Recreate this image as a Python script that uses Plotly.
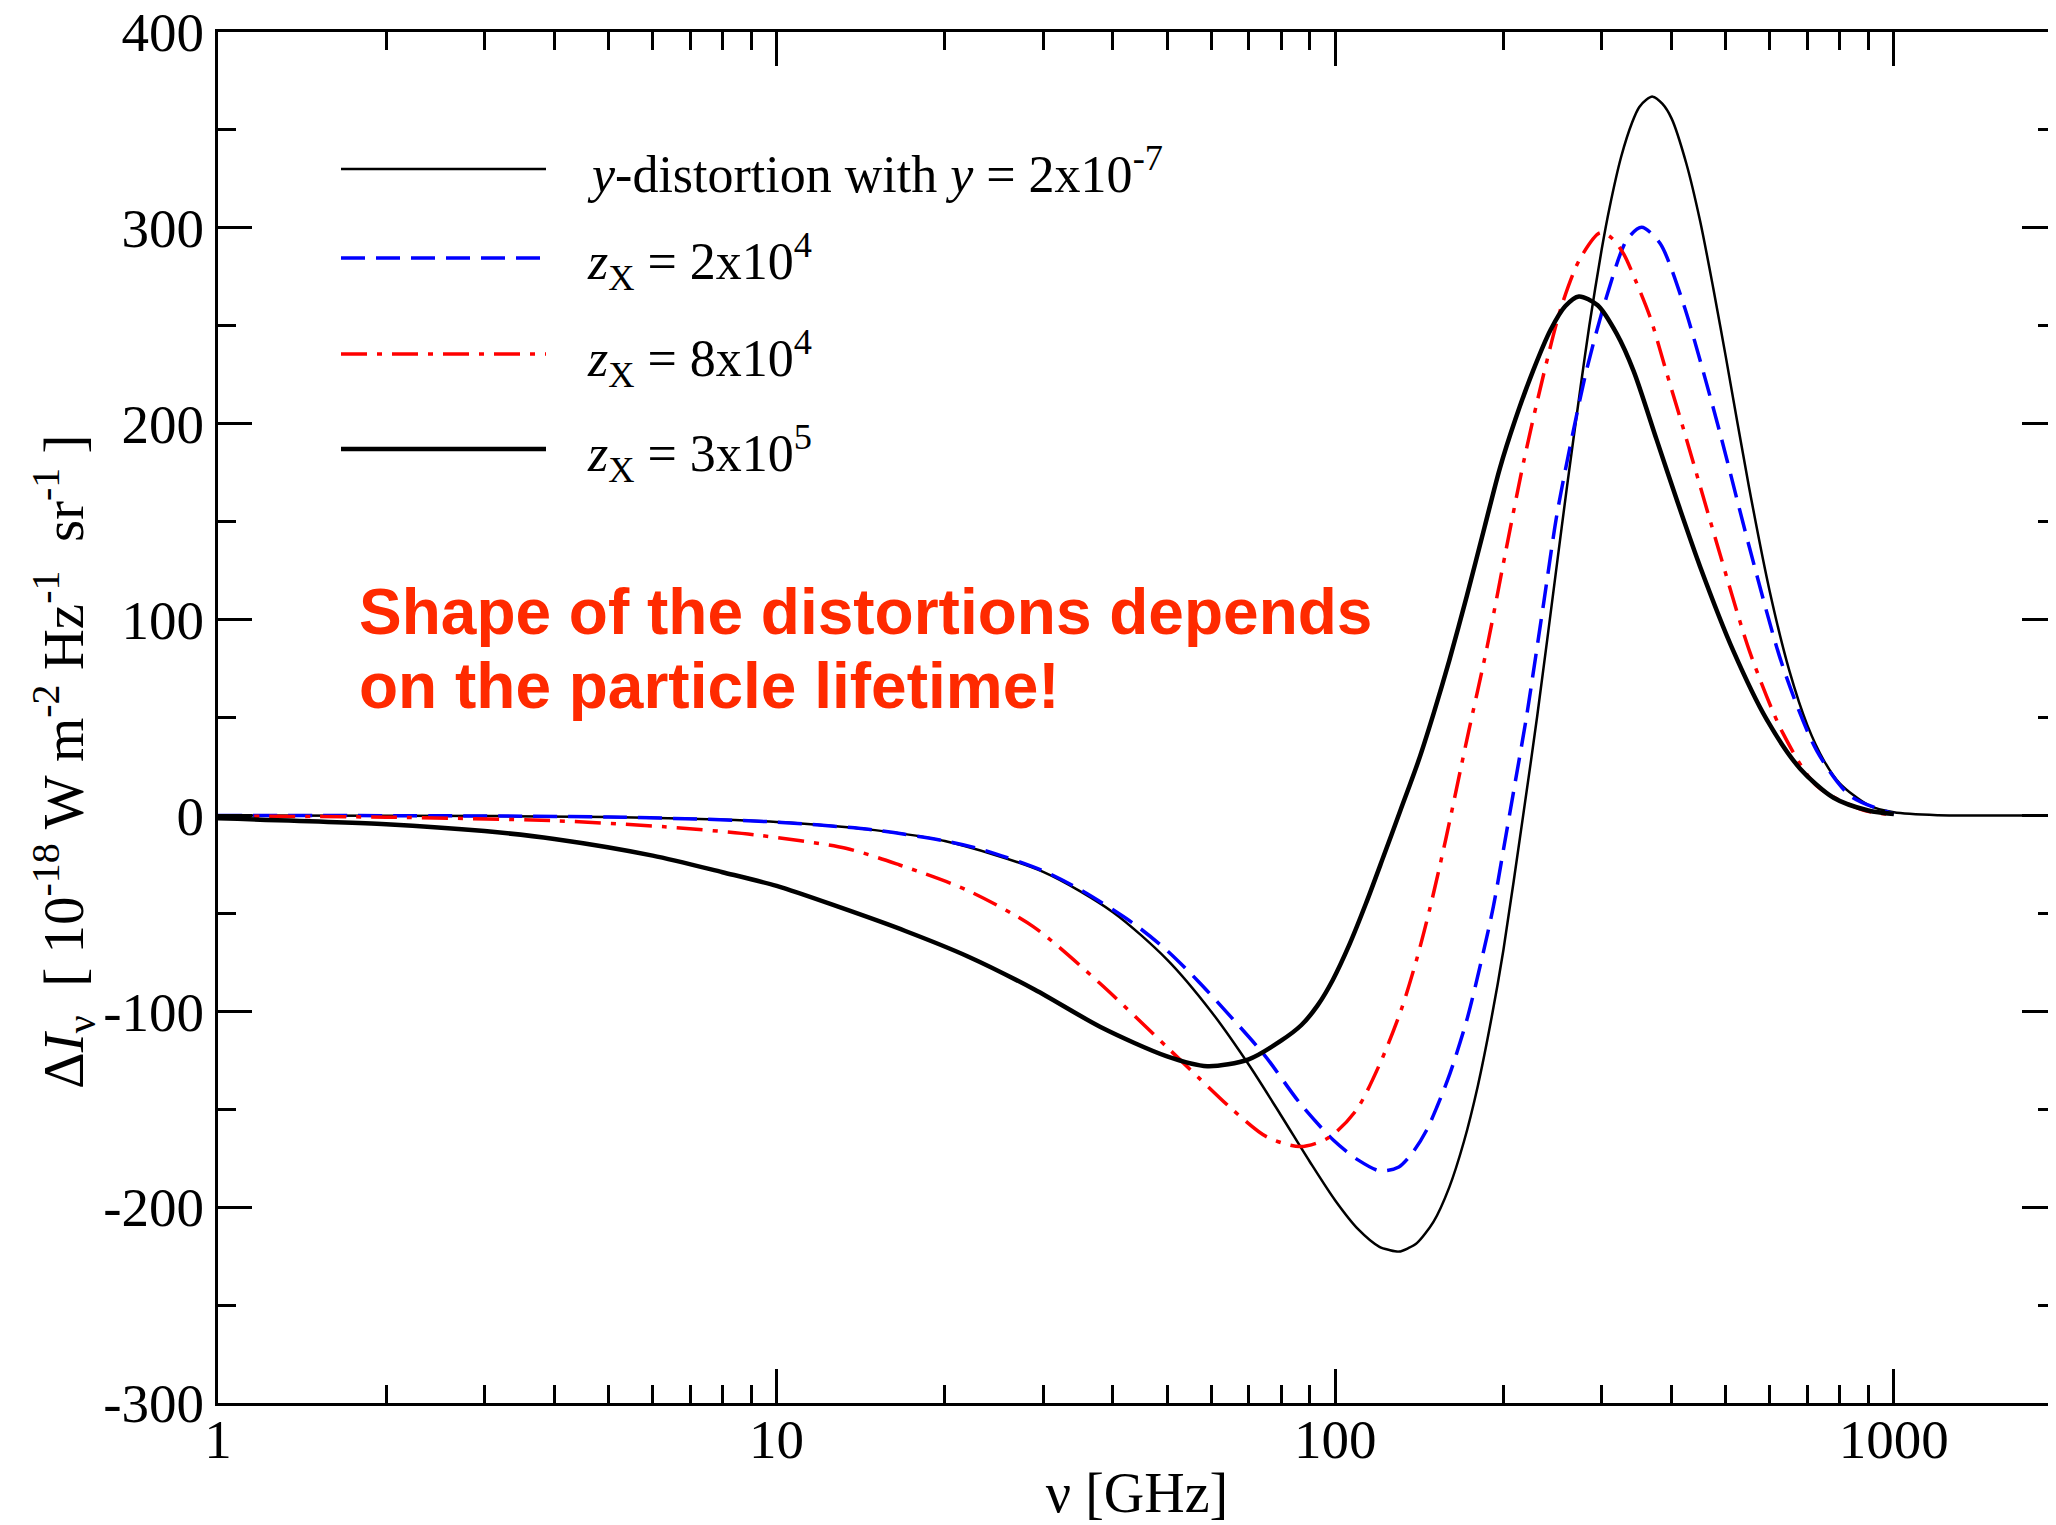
import plotly.graph_objects as go

# y-distortion, y = 2x10^-7 (thin black)
nu_y = [1, 2, 5, 10, 15, 20, 30, 40, 50, 60, 70, 80, 90, 100, 110, 120, 125, 130, 135, 140,
        150, 160, 170, 180, 190, 200, 217, 230, 250, 260, 275, 285, 300, 310, 325, 340, 350,
        360, 370, 385, 400, 425, 450, 475, 500, 550, 600, 650, 700, 750, 800, 900, 1000,
        1200, 1500, 2000]
dI_y = [-0.03, -0.13, -0.84, -3.35, -7.5, -13.1, -28.8, -49.4, -73.6, -100.2, -127.2, -153.2,
        -176.7, -196.6, -211.4, -220.3, -221.9, -222.7, -221.0, -218.4, -207.4, -189.9, -166.5,
        -138.1, -105.0, -68.8, 0.0, 51.0, 130.6, 168.0, 219.0, 250.0, 289.2, 310.7, 336.3,
        353.8, 361.6, 365.3, 367.0, 363.4, 355.9, 333.0, 303.5, 269.3, 234.5, 168.2, 114.0,
        73.9, 46.1, 27.9, 16.4, 5.3, 1.6, 0.12, 0.0, 0.0]

# z_X = 2x10^4 (blue dashed)
nu_b = [1, 5, 10, 15, 20, 23.5, 30, 35, 43.5, 50, 57, 65.6, 75, 86.5, 99.2, 110, 120.3, 130,
        138, 145.8, 152, 160.5, 172, 181.6, 191.9, 200, 210, 220, 236, 249, 261, 281.8, 306,
        332.6, 353.6, 381.4, 419.8, 449.8, 488.7, 553, 633, 728, 836, 1000]
dI_b = [0.0, -0.8, -3.4, -7.5, -13.0, -17.7, -28.3, -38.0, -55.1, -69.0, -85.0, -104.0, -123.0,
        -147.0, -165.7, -176.0, -181.5, -179.5, -171.6, -160.6, -149.0, -131.7, -104.5, -77.2,
        -46.6, -17.7, 17.0, 50.4, 108.0, 152.5, 183.0, 227.4, 264.8, 293.8, 300.3, 292.1,
        261.5, 232.5, 195.0, 135.5, 75.9, 33.0, 10.0, 0.8]

# z_X = 8x10^4 (red dash-dot)
nu_r = [1, 2, 4, 6.3, 9.2, 13.3, 16.6, 21.9, 28.8, 37.9, 49.9, 57, 65.6, 75.3, 86.5, 97.4,
        109.1, 120.3, 131.2, 139.8, 148, 157.6, 172, 187, 202, 217.6, 236, 253.5, 274, 298,
        312, 327.9, 345, 366, 392, 425.5, 482, 553, 633, 728, 887, 1000]
dI_r = [-0.3, -0.9, -2.7, -5.8, -10.0, -16.8, -25.3, -38.1, -56.8, -85.7, -118.1, -134.0,
        -150.4, -164.0, -169.1, -164.5, -150.4, -126.6, -99.4, -73.8, -46.6, -12.6, 38.5, 86.0,
        135.0, 181.0, 225.0, 259.0, 284.0, 297.5, 295.0, 287.0, 273.0, 254.6, 226.0, 192.0,
        139.0, 83.0, 42.0, 15.0, 2.5, 0.5]

# z_X = 3x10^5 (thick black)
nu_k = [1, 2, 3, 4, 6, 8, 10, 13, 17, 22, 29, 38, 50, 59, 70, 80, 87, 93, 99, 106, 113.5,
        122, 131, 141, 150, 160, 172, 185, 197, 210, 226, 243, 258, 273, 295, 319, 342, 376,
        410, 450, 516, 592, 679, 780, 900, 1000]
dI_k = [-1.5, -4.5, -8.0, -12.0, -20.5, -29.0, -36.0, -47.0, -59.0, -72.0, -89.0, -108.0,
        -123.0, -128.0, -124.5, -115.0, -107.0, -97.0, -84.0, -66.0, -45.0, -21.0, 3.0, 28.0,
        52.0, 79.0, 112.0, 147.0, 177.0, 202.0, 227.0, 248.0, 260.0, 265.0, 260.5, 246.0,
        227.0, 192.0, 160.0, 127.0, 84.0, 49.0, 24.0, 9.0, 2.5, 0.7]

x_ticks = [1, 10, 100, 1000]
y_ticks = [-300, -200, -100, 0, 100, 200, 300, 400]

legend_labels = [
    "<i>y</i>-distortion with <i>y</i> = 2x10<sup>-7</sup>",
    "<i>z</i><sub>X</sub> = 2x10<sup>4</sup>",
    "<i>z</i><sub>X</sub> = 8x10<sup>4</sup>",
    "<i>z</i><sub>X</sub> = 3x10<sup>5</sup>",
]

SERIF = "Liberation Serif"
DASH_B = "24px,11px"
DASH_R = "26px,10px,5px,10px"

styles = [
    dict(color="black", width=2.5),
    dict(color="#0000ff", width=3.5, dash=DASH_B),
    dict(color="#ff0000", width=3.5, dash=DASH_R),
    dict(color="black", width=4.5),
]

fig = go.Figure()
for (xs, ys), st in zip([(nu_y, dI_y), (nu_b, dI_b), (nu_r, dI_r), (nu_k, dI_k)], styles):
    fig.add_trace(go.Scatter(x=xs, y=ys, mode="lines",
                             line=dict(st, shape="spline", smoothing=0.8),
                             showlegend=False, hoverinfo="skip"))

minor_x = [m * d for d in (1, 10, 100, 1000) for m in range(2, 10)]

# automargin off: otherwise the "400" label pushes the top margin down
axis_common = dict(
    showline=True, linecolor="black", linewidth=3, mirror="ticks",
    ticks="inside", ticklen=34, tickwidth=2.5, tickcolor="black",
    showgrid=False, zeroline=False, ticklabeloverflow="allow", automargin=False,
    tickfont=dict(family=SERIF, size=55, color="black"),
)

fig.update_xaxes(
    type="log", range=[0, 3.2903],
    tickvals=x_ticks, ticktext=[str(v) for v in x_ticks], ticklabelstandoff=-14,
    minor=dict(ticks="inside", ticklen=18, tickwidth=2.5, tickcolor="black",
               tickvals=minor_x, showgrid=False),
    title=dict(text="ν [GHz]", font=dict(family=SERIF, size=56, color="black"), standoff=4),
    **axis_common,
)
fig.update_yaxes(
    range=[-300, 400], tickvals=y_ticks, ticktext=[str(v) for v in y_ticks],
    minor=dict(ticks="inside", ticklen=18, tickwidth=2.5, tickcolor="black", dtick=50,
               showgrid=False),
    **axis_common,
)

# plot area in page pixels: left 218, right 2056, top 32, bottom 1403
def px_x(p):
    return (p - 218) / 1838.0

def px_y(p):
    return (1403 - p) / 1371.0

ann = []
ann.append(dict(
    text="Δ<i>I</i><sub>ν</sub>  [ 10<sup>-18</sup> W m<sup>-2</sup> Hz<sup>-1</sup>  sr<sup>-1</sup> ]",
    xref="paper", yref="paper", x=px_x(63), y=px_y(762), textangle=-90,
    xanchor="center", yanchor="middle", showarrow=False,
    font=dict(family=SERIF, size=57, color="black"),
))
for txt, py in [("Shape of the distortions depends", 612), ("on the particle lifetime!", 686)]:
    ann.append(dict(
        text="<b>" + txt + "</b>", xref="paper", yref="paper", x=px_x(357), y=px_y(py),
        xanchor="left", yanchor="middle", showarrow=False,
        font=dict(family="Liberation Sans", size=64, color="#ff2a00"),
    ))

legend_line_y = [169, 258, 354, 449]
legend_text_dy = [1, 4, 4, 4]
shapes = []
for lab, ly, dy, st in zip(legend_labels, legend_line_y, legend_text_dy, styles):
    shapes.append(dict(type="line", xref="paper", yref="paper",
                       x0=px_x(341), x1=px_x(546), y0=px_y(ly), y1=px_y(ly), line=st))
    ann.append(dict(
        text=lab, xref="paper", yref="paper", x=px_x(585), y=px_y(ly + dy),
        xanchor="left", yanchor="middle", showarrow=False,
        font=dict(family=SERIF, size=52, color="black"),
    ))

# the page body has an 8px margin, so the figure is shifted by 8px
fig.update_layout(
    width=2048, height=1517,
    margin=dict(l=210, r=0, t=24, b=122),
    paper_bgcolor="white", plot_bgcolor="white",
    annotations=ann, shapes=shapes,
)

fig.write_html("out.html")
